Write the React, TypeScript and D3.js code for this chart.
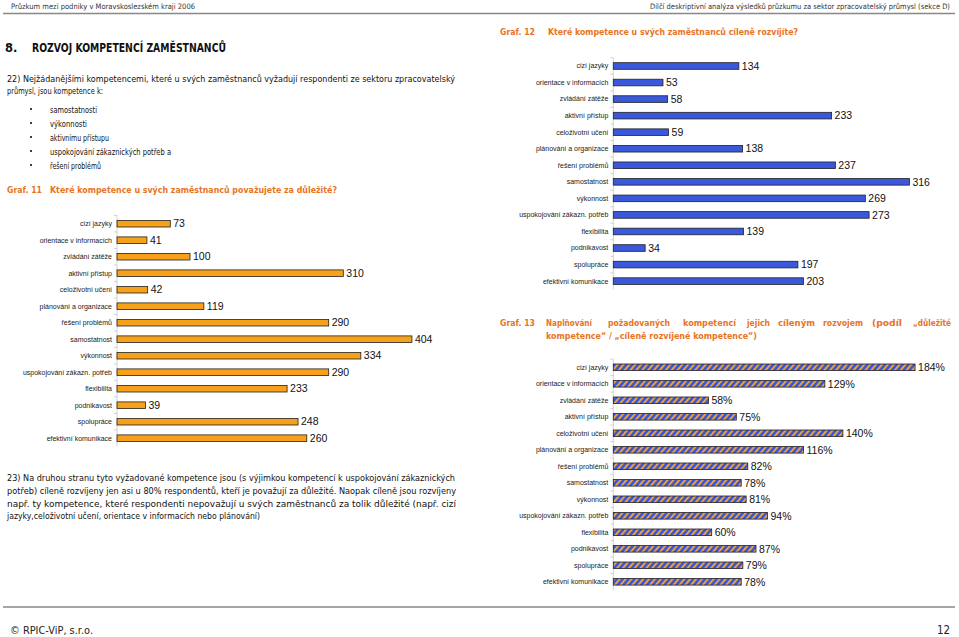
import { scaleBand, scaleLinear } from "d3";

// data
const categories = [
  "cizí jazyky",
  "orientace v informacích",
  "zvládání zátěže",
  "aktivní přístup",
  "celoživotní učení",
  "plánování a organizace",
  "řešení problémů",
  "samostatnost",
  "výkonnost",
  "uspokojování zákazn. potřeb",
  "flexibilita",
  "podnikavost",
  "spolupráce",
  "efektivní komunikace",
];
const importantCounts = [73, 41, 100, 310, 42, 119, 290, 404, 334, 290, 233, 39, 248, 260];
const developedCounts = [134, 53, 58, 233, 59, 138, 237, 316, 269, 273, 139, 34, 197, 203];
const fulfilmentPct = [184, 129, 58, 75, 140, 116, 82, 78, 81, 94, 60, 87, 79, 78];

const DOC_FONT = "'DejaVu Sans', Verdana, sans-serif";
const CHART_FONT = "'Liberation Sans', Arial, sans-serif";
const ORANGE_TITLE = "#e8741e";

interface BarChartProps {
  values: number[];
  axisX: number;
  top: number;
  step: number;
  pxPerUnit: number;
  fill: string;
  suffix?: string;
}

//horizontal bar chart
const BarChart = ({ values, axisX, top, step, pxPerUnit, fill, suffix = "" }: BarChartProps) => {
  const maxV = Math.max(...values);
  const x = scaleLinear()
    .domain([0, maxV])
    .range([axisX, axisX + maxV * pxPerUnit]);
  const y = scaleBand<string>()
    .domain(categories)
    .range([top, top + step * categories.length])
    .paddingInner(0.6)
    .paddingOuter(0.3);
  const bw = y.bandwidth();
  const bottom = top + step * categories.length;

  return (
    <g>
      <line x1={axisX} x2={axisX} y1={top} y2={bottom} stroke="#c8c8c8" strokeWidth={0.8} />
      {categories.map((c, i) => (
        <line
          key={"t" + i}
          x1={axisX - 3}
          x2={axisX}
          y1={top + step * i}
          y2={top + step * i}
          stroke="#c8c8c8"
          strokeWidth={0.8}
        />
      ))}
      {categories.map((c, i) => {
        const yc = (y(c) ?? 0) + bw / 2;
        return (
          <g key={c}>
            <text
              x={axisX - 5}
              y={yc + 2.4}
              textAnchor="end"
              fontSize={7}
              fontFamily={CHART_FONT}
              fill="#222"
            >
              {c}
            </text>
            <rect
              x={x(0)}
              y={y(c)}
              width={x(values[i]) - x(0)}
              height={bw}
              fill={fill}
              stroke="#222"
              strokeWidth={0.8}
            />
            <text
              x={x(values[i]) + 3}
              y={yc + 3.7}
              fontSize={10.5}
              fontFamily={CHART_FONT}
              fill="#111"
            >
              {values[i] + suffix}
            </text>
          </g>
        );
      })}
    </g>
  );
};

interface LineProps {
  x: number;
  y: number;
  text: string;
  w?: number;
  size?: number;
  bold?: boolean;
  color?: string;
  font?: string;
  sx?: number; // horizontal squeeze for long lines
}

const Line = ({ x, y, text, w, size = 9, bold = false, color = "#111", font = DOC_FONT, sx }: LineProps) => {
  const k = sx ?? 1;
  return (
    <text
      x={sx ? 0 : x}
      y={sx ? 0 : y}
      transform={sx ? `translate(${x},${y}) scale(${k},1)` : undefined}
      fontSize={size}
      fontWeight={bold ? "bold" : "normal"}
      fontFamily={font}
      fill={color}
      textLength={w ? w / k : undefined}
      lengthAdjust={w ? "spacingAndGlyphs" : undefined}
    >
      {text}
    </text>
  );
};

const bullets = [
  "samostatnosti",
  "výkonnosti",
  "aktivnímu přístupu",
  "uspokojování zákaznických potřeb a",
  "řešení problémů",
];
const bulletWidths = [47, 37, 59, 121, 51];

const graf13Words: [string, number, number][] = [
  ["Naplňování", 546, 46],
  ["požadovaných", 608, 62],
  ["kompetencí", 683, 53],
  ["jejich", 747, 23],
  ["cíleným", 778, 37],
  ["rozvojem", 823, 40],
  ["(podíl", 872, 30],
];

export default function App() {
  return (
    <svg
      width={959}
      height={637}
      viewBox="0 0 959 637"
      style={{ position: "absolute", left: 0, top: 0, background: "#fff" }}
    >
      <defs>
        <pattern
          id="stripes"
          width={4.5}
          height={4.5}
          patternUnits="userSpaceOnUse"
          patternTransform="rotate(40)"
        >
          <rect width={4.5} height={4.5} fill="#3a55d6" />
          <rect width={1.9} height={4.5} fill="#f0a33a" />
        </pattern>
      </defs>

      {/* header */}
      <Line x={11} y={9} text="Průzkum mezi podniky v Moravskoslezském kraji 2006" w={184} size={7.5} color="#333" />
      <Line
        x={650}
        y={9}
        sx={0.75}
        text="Dílčí deskriptivní analýza výsledků průzkumu za sektor zpracovatelský průmysl (sekce D)"
        w={300}
        size={7.5}
        color="#333"
      />
      <line x1={3} x2={955} y1={13.5} y2={13.5} stroke="#888" strokeWidth={1.6} />

      {/* left column text */}
      <Line x={5} y={52} text="8." size={11.5} bold />
      <Line x={32} y={52} text="ROZVOJ KOMPETENCÍ ZAMĚSTNANCŮ" w={194} size={11.5} bold />
      <Line
        x={7}
        y={82}
        text="22) Nejžádanějšími kompetencemi, které u svých zaměstnanců vyžadují respondenti ze sektoru zpracovatelský"
        w={448}
      />
      <Line x={7} y={94} text="průmysl, jsou kompetence k:" w={96} />
      {bullets.map((b, i) => (
        <g key={b}>
          <circle cx={31} cy={109 + i * 14} r={1.1} fill="#111" />
          <Line x={50} y={112.5 + i * 14} text={b} w={bulletWidths[i]} />
        </g>
      ))}
      <Line x={7} y={193} text="Graf. 11" size={9.5} bold color={ORANGE_TITLE} w={35} />
      <Line
        x={50}
        y={193}
        text="Které kompetence u svých zaměstnanců považujete za důležité?"
        size={9.5}
        bold
        color={ORANGE_TITLE}
        w={287}
      />

      <BarChart values={importantCounts} axisX={117} top={215.45} step={16.5} pxPerUnit={0.73} fill="#f7a11a" />

      <Line
        x={7}
        y={481}
        text="23) Na druhou stranu tyto vyžadované kompetence jsou (s výjimkou kompetencí k uspokojování zákaznických"
        w={448}
      />
      <Line
        x={7}
        y={494}
        text="potřeb)  cíleně rozvíjeny jen asi u 80% respondentů, kteří je považují za důležité. Naopak cíleně jsou rozvíjeny"
        w={449}
      />
      <Line
        x={7}
        y={506.5}
        text="např.  ty  kompetence,  které  respondenti  nepovažují  u  svých  zaměstnanců  za  tolik  důležité  (např.  cizí"
        w={449}
      />
      <Line
        x={7}
        y={519}
        text="jazyky,celoživotní učení, orientace v informacích nebo plánování)"
        w={253}
      />

      {/* right column */}
      <Line x={500} y={35} text="Graf. 12" size={9.5} bold color={ORANGE_TITLE} w={35} />
      <Line
        x={548}
        y={35}
        text="Které kompetence u svých zaměstnanců cíleně rozvíjíte?"
        size={9.5}
        bold
        color={ORANGE_TITLE}
        w={250}
      />

      <BarChart values={developedCounts} axisX={613.3} top={57.7} step={16.55} pxPerUnit={0.937} fill="#3a58dc" />

      <Line x={500} y={326} text="Graf. 13" size={9.5} bold color={ORANGE_TITLE} w={35} />
      {graf13Words.map(([w, xx, ww]) => (
        <Line key={w} x={xx} y={326} text={w} w={ww} size={9.5} bold color={ORANGE_TITLE} />
      ))}
      <Line x={913} y={326} sx={0.68} text="„důležité" w={38} size={9.5} bold color={ORANGE_TITLE} />
      <Line
        x={546}
        y={338.5}
        text="kompetence“ / „cíleně rozvíjené kompetence“)"
        size={9.5}
        bold
        color={ORANGE_TITLE}
        w={211}
      />

      <BarChart
        values={fulfilmentPct}
        axisX={613.3}
        top={359.05}
        step={16.5}
        pxPerUnit={1.64}
        fill="url(#stripes)"
        suffix="%"
      />

      {/* footer */}
      <line x1={3} x2={955} y1={607} y2={607} stroke="#888" strokeWidth={1.6} />
      <Line x={10} y={634} text="© RPIC-ViP, s.r.o." size={10} color="#222" w={83} />
      <Line x={937} y={634} text="12" size={12} color="#222" w={13} />
    </svg>
  );
}
